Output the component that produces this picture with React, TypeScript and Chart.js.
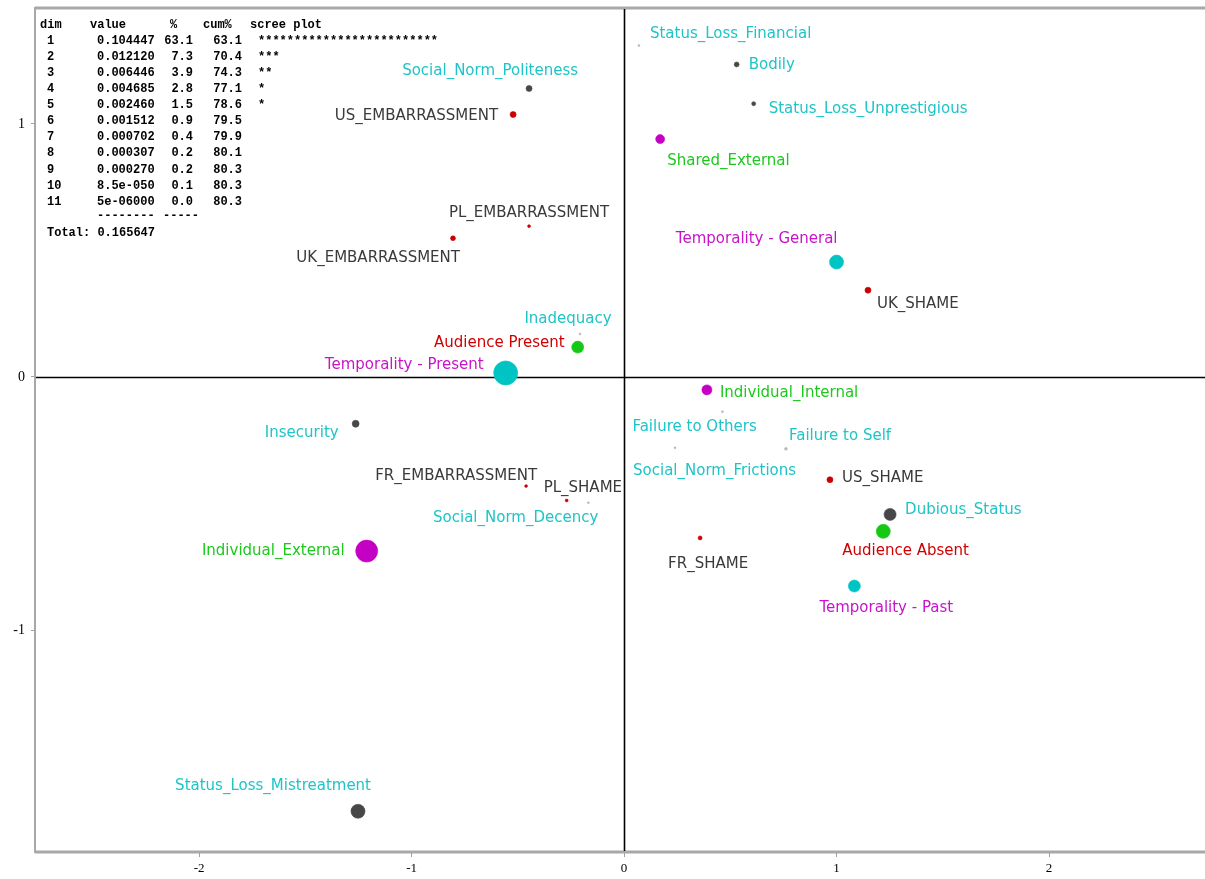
import React, { useEffect, useRef } from "react";
import { Chart, registerables } from "chart.js";

Chart.register(...registerables);

// ---------- Data ----------
const pointLabels = [
  "Status_Loss_Financial",
  "Bodily",
  "Status_Loss_Unprestigious",
  "Shared_External",
  "Temporality - General",
  "UK_SHAME",
  "Social_Norm_Politeness",
  "US_EMBARRASSMENT",
  "PL_EMBARRASSMENT",
  "UK_EMBARRASSMENT",
  "Inadequacy",
  "Audience Present",
  "Temporality - Present",
  "Insecurity",
  "FR_EMBARRASSMENT",
  "PL_SHAME",
  "Social_Norm_Decency",
  "Individual_External",
  "Individual_Internal",
  "Failure to Others",
  "Social_Norm_Frictions",
  "Failure to Self",
  "US_SHAME",
  "Dubious_Status",
  "Audience Absent",
  "FR_SHAME",
  "Temporality - Past",
  "Status_Loss_Mistreatment",
];

const dim1 = [
  0.07, 0.53, 0.61, 0.17, 1.0, 1.148, -0.447, -0.522, -0.447, -0.805, -0.207,
  -0.218, -0.557, -1.263, -0.461, -0.27, -0.168, -1.211, 0.39, 0.463, 0.24,
  0.762, 0.969, 1.252, 1.22, 0.358, 1.084, -1.252,
];

const dim2 = [
  1.31, 1.235, 1.08, 0.94, 0.454, 0.343, 1.14, 1.037, 0.596, 0.548, 0.17,
  0.118, 0.016, -0.185, -0.431, -0.488, -0.497, -0.688, -0.051, -0.137, -0.28,
  -0.284, -0.406, -0.543, -0.61, -0.636, -0.826, -1.716,
];

// relative mass of each point (marker area)
const pointMass = [
  1, 6, 4, 20, 49, 9, 9, 9, 2, 6, 1, 36, 144, 12, 2, 2, 1, 121, 25, 1, 1, 2, 9,
  36, 49, 4, 36, 49,
];

// variable each point belongs to
const pointGroup = [
  "feature", "feature", "feature", "locus", "temporality", "country",
  "feature", "country", "country", "country", "feature", "audience",
  "temporality", "feature", "country", "country", "feature", "locus",
  "locus", "feature", "feature", "feature", "country", "feature",
  "audience", "country", "temporality", "feature",
];

// Eigenvalue table
const tableDims = ["1", "2", "3", "4", "5", "6", "7", "8", "9", "10", "11"];
const tableValues = [
  "0.104447", "0.012120", "0.006446", "0.004685", "0.002460", "0.001512",
  "0.000702", "0.000307", "0.000270", "8.5e-050", "5e-06000",
];
const tablePct = ["63.1", "7.3", "3.9", "2.8", "1.5", "0.9", "0.4", "0.2", "0.2", "0.1", "0.0"];
const tableCum = ["63.1", "70.4", "74.3", "77.1", "78.6", "79.5", "79.9", "80.1", "80.3", "80.3", "80.3"];
const tableStars = [25, 3, 2, 1, 1, 0, 0, 0, 0, 0, 0];
const tableTotal = "0.165647";

const xTicks = [-2, -1, 0, 1, 2];
const yTicks = [-1, 0, 1];

// ---------- Styling / layout ----------
const pointColors: Record<string, string> = {
  country: "#cc0000",
  feature: "#474747",
  featureLight: "#b8b8b8",
  temporality: "#00c4c4",
  locus: "#c400c4",
  audience: "#14c814",
};
const labelColors: Record<string, string> = {
  country: "#3a3a3a",
  feature: "#1ec4c8",
  temporality: "#c814c8",
  locus: "#1cc81c",
  audience: "#d00000",
};

// label placement relative to the point: [dx, dy, align]
const labelPlacement: [number, number, CanvasTextAlign][] = [
  [11, -12, "left"],
  [12, 0, "left"],
  [15, 4, "left"],
  [7, 21, "left"],
  [1, -24, "right"],
  [9, 13, "left"],
  [49, -18, "right"],
  [-15, 1, "right"],
  [0, -14, "center"],
  [7, 19, "right"],
  [-12, -16, "center"],
  [-13, -5, "right"],
  [-22, -9, "right"],
  [-17, 8, "right"],
  [11, -11, "right"],
  [-23, -13, "left"],
  [10, 14, "right"],
  [-22, -1, "right"],
  [13, 2, "left"],
  [-90, 14, "left"],
  [-42, 22, "left"],
  [3, -14, "left"],
  [12, -3, "left"],
  [15, -5, "left"],
  [-41, 19, "left"],
  [-32, 25, "left"],
  [-35, 21, "left"],
  [13, -26, "right"],
];

const radiusOf = (i: number) => Math.sqrt(pointMass[i]);
const colorOf = (i: number) => {
  const g = pointGroup[i];
  if (g === "feature" && pointMass[i] < 3) return pointColors.featureLight;
  return pointColors[g];
};

const framePlugin = {
  id: "frame",
  beforeDatasetsDraw(chart: any) {
    const { ctx, chartArea, scales } = chart;
    const { left, right, top, bottom } = chartArea;
    ctx.save();
    // frame
    ctx.strokeStyle = "#a8a8a8";
    ctx.lineWidth = 3;
    ctx.beginPath();
    ctx.moveTo(left, top);
    ctx.lineTo(right + 5, top);
    ctx.moveTo(left, bottom);
    ctx.lineTo(right + 5, bottom);
    ctx.stroke();
    ctx.lineWidth = 2;
    ctx.beginPath();
    ctx.moveTo(left, top - 1);
    ctx.lineTo(left, bottom + 1);
    ctx.stroke();
    // zero lines
    const x0 = Math.round(scales.x.getPixelForValue(0)) + 0.5;
    const y0 = Math.round(scales.y.getPixelForValue(0)) + 0.5;
    ctx.strokeStyle = "#000";
    ctx.lineWidth = 1.6;
    ctx.beginPath();
    ctx.moveTo(x0, top + 1);
    ctx.lineTo(x0, bottom - 1);
    ctx.moveTo(left + 1, y0);
    ctx.lineTo(right, y0);
    ctx.stroke();
    ctx.restore();
  },
  afterDatasetsDraw(chart: any) {
    const { ctx, scales, chartArea } = chart;
    ctx.save();
    // point labels
    ctx.font = '15px "DejaVu Sans", sans-serif';
    ctx.textBaseline = "middle";
    pointLabels.forEach((lab, i) => {
      const px = scales.x.getPixelForValue(dim1[i]);
      const py = scales.y.getPixelForValue(dim2[i]);
      const [dx, dy, align] = labelPlacement[i];
      ctx.textAlign = align;
      ctx.fillStyle = labelColors[pointGroup[i]];
      ctx.fillText(lab, px + dx, py + dy + 1);
    });

    // eigenvalue table
    const L = chartArea.left;
    const T = chartArea.top;
    ctx.fillStyle = "#000";
    ctx.font = 'bold 12px "Liberation Mono", "DejaVu Sans Mono", monospace';
    ctx.textBaseline = "middle";
    const rowY = (r: number) => T + 32.7 + 16.1 * r;
    ctx.textAlign = "left";
    ctx.fillText("dim", L + 5, T + 17);
    ctx.fillText("value", L + 55, T + 17);
    ctx.fillText("%", L + 135, T + 17);
    ctx.fillText("cum%", L + 168, T + 17);
    ctx.fillText("scree plot", L + 215, T + 17);
    tableDims.forEach((d, r) => {
      const y = rowY(r);
      ctx.textAlign = "left";
      ctx.fillText(d, L + 12, y);
      ctx.fillText(tableValues[r], L + 62, y);
      ctx.textAlign = "right";
      ctx.fillText(tablePct[r], L + 158, y);
      ctx.fillText(tableCum[r], L + 207, y);
      ctx.textAlign = "left";
      if (tableStars[r] > 0) ctx.fillText("*".repeat(tableStars[r]), L + 223, y);
    });
    ctx.textAlign = "left";
    ctx.fillText("--------", L + 62, rowY(11) - 2);
    ctx.fillText("-----", L + 128, rowY(11) - 2);
    ctx.fillText("Total: " + tableTotal, L + 12, rowY(12) - 1);
    ctx.restore();
  },
};

export default function App() {
  const ref = useRef<HTMLCanvasElement | null>(null);
  useEffect(() => {
    if (!ref.current) return;
    const chart = new Chart(ref.current, {
      type: "scatter",
      data: {
        datasets: [
          {
            data: dim1.map((x, i) => ({ x, y: dim2[i] })),
            pointRadius: dim1.map((_, i) => radiusOf(i)),
            pointHoverRadius: dim1.map((_, i) => radiusOf(i)),
            backgroundColor: dim1.map((_, i) => colorOf(i)),
            borderColor: dim1.map((_, i) => colorOf(i) + "99"),
            borderWidth: 1,
          },
        ],
      },
      options: {
        responsive: false,
        animation: false,
        layout: { autoPadding: false, padding: { top: 8, left: 0, right: 0, bottom: 0 } },
        plugins: {
          legend: { display: false },
          tooltip: { enabled: false },
          title: { display: false },
        },
        scales: {
          x: {
            type: "linear",
            min: -2.772,
            max: 2.734,
            afterFit: (s: any) => {
              s.height = 27;
              s.paddingLeft = 0;
              s.paddingRight = 0;
            },
            afterBuildTicks: (s: any) => {
              s.ticks = xTicks.map((v) => ({ value: v }));
            },
            ticks: {
              color: "#000",
              padding: 4,
              font: { family: '"Liberation Serif", serif', size: 13 },
            },
            grid: {
              drawOnChartArea: false,
              drawTicks: true,
              tickLength: 5,
              color: "#a0a0a0",
            },
            border: { display: false },
          },
          y: {
            type: "linear",
            min: -1.877,
            max: 1.458,
            afterFit: (s: any) => {
              s.width = 35;
              s.paddingTop = 0;
              s.paddingBottom = 0;
            },
            afterBuildTicks: (s: any) => {
              s.ticks = yTicks.map((v) => ({ value: v }));
            },
            ticks: {
              color: "#000",
              padding: 6,
              font: { family: '"Liberation Serif", serif', size: 14 },
            },
            grid: {
              drawOnChartArea: false,
              drawTicks: true,
              tickLength: 4,
              color: "#a0a0a0",
            },
            border: { display: false },
          },
        },
      },
      plugins: [framePlugin],
    });
    return () => chart.destroy();
  }, []);

  return (
    <div
      style={{
        position: "absolute",
        left: 0,
        top: 0,
        width: 1205,
        height: 879,
        overflow: "hidden",
        background: "#fff",
      }}
    >
      <canvas ref={ref} width={1205} height={879} style={{ width: 1205, height: 879 }} />
    </div>
  );
}
